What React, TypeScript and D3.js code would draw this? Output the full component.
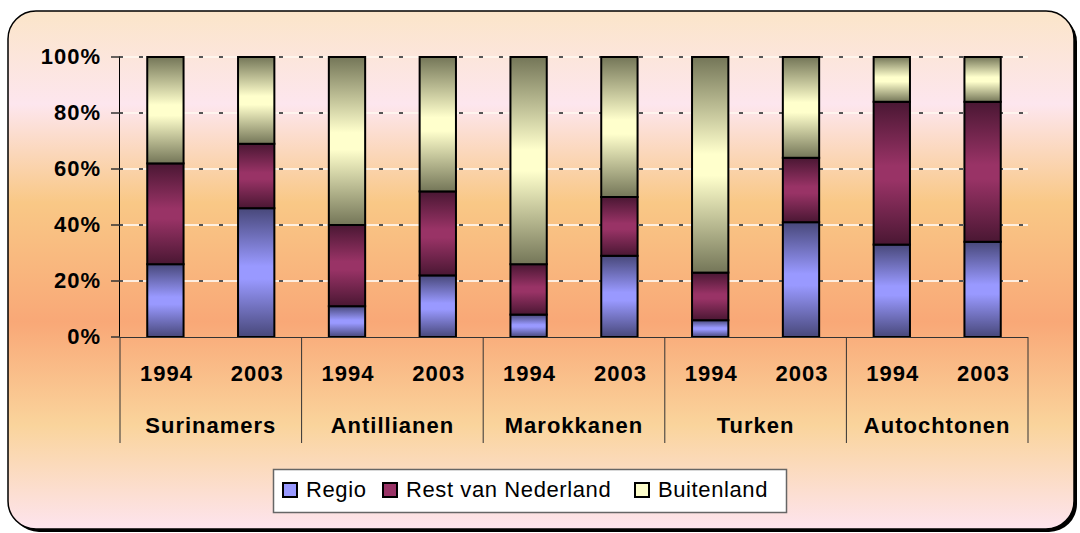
import * as d3 from 'd3';
import React from 'react';

const categories = ['Surinamers', 'Antillianen', 'Marokkanen', 'Turken', 'Autochtonen'];
const years = ['1994', '2003'];
const seriesNames = ['Regio', 'Rest van Nederland', 'Buitenland'];
const regio = [26, 46, 11, 22, 8, 29, 6, 41, 33, 34];
const restVanNederland = [36, 23, 29, 30, 18, 21, 17, 23, 51, 50];
const buitenland = [38, 31, 60, 48, 74, 50, 77, 36, 16, 16];
const yTicks = [0, 20, 40, 60, 80, 100];

// dark edge, light middle per series
const shades = [
  { dark: '#48487a', light: '#9999ff' },
  { dark: '#4a1733', light: '#993366' },
  { dark: '#747658', light: '#ffffcc' },
];

type Row = { key: string; cat: string; year: string; s0: number; s1: number; s2: number };

const rows: Row[] = [];
categories.forEach((c, ci) => {
  years.forEach((y, yi) => {
    const i = ci * 2 + yi;
    rows.push({ key: c + y, cat: c, year: y, s0: regio[i], s1: restVanNederland[i], s2: buitenland[i] });
  });
});

const font = '"Liberation Sans", Arial, sans-serif';

function App() {
  const width = 1080;
  const height = 533;
  const left = 120;
  const right = 1028;
  const top = 57;
  const bottom = 337;

  const x = d3.scaleBand<string>()
    .domain(rows.map((r) => r.key))
    .range([left, right])
    .paddingInner(0.6)
    .paddingOuter(0.3);

  const xCat = d3.scaleBand<string>().domain(categories).range([left, right]);

  const y = d3.scaleLinear().domain([0, 100]).range([bottom, top]);

  const stack = d3.stack<Row>().keys(['s0', 's1', 's2']);
  const stacked = stack(rows);

  const legendItems = [
    { x: 283, tx: 306 },
    { x: 383, tx: 406 },
    { x: 635, tx: 658 },
  ];

  return (
    <svg width={width} height={height} style={{ position: 'absolute', left: 0, top: 0 }}>
      <defs>
        <linearGradient id="bg" x1="0" y1="0" x2="0" y2="1">
          <stop offset="0" stopColor="#fbe5c9" />
          <stop offset="0.18" stopColor="#fde6ee" />
          <stop offset="0.37" stopColor="#f9c886" />
          <stop offset="0.6" stopColor="#f9a877" />
          <stop offset="0.8" stopColor="#fad49c" />
          <stop offset="1" stopColor="#fde4ee" />
        </linearGradient>
        {shades.map((s, i) => (
          <linearGradient key={i} id={'g' + i} x1="0" y1="0" x2="0" y2="1">
            <stop offset="0" stopColor={s.dark} />
            <stop offset="0.45" stopColor={s.light} />
            <stop offset="0.55" stopColor={s.light} />
            <stop offset="1" stopColor={s.dark} />
          </linearGradient>
        ))}
      </defs>

      <rect x={11} y={14} width={1066} height={518} rx={28} fill="#000" />
      <rect x={8} y={11} width={1066} height={518} rx={28} fill="url(#bg)" stroke="#000" strokeWidth={1.5} />

      {/* grid */}
      {yTicks.filter((t) => t > 0).map((t) => (
        <g key={t}>
          <line x1={left} x2={right} y1={y(t)} y2={y(t)} stroke="#fff8f0" strokeWidth={2} opacity={0.85} />
          <line x1={left - 1} x2={right} y1={y(t)} y2={y(t)} stroke="#555" strokeWidth={2} strokeDasharray="4 16" />
        </g>
      ))}

      {/* bars */}
      {stacked.map((layer, si) => (
        <g key={si}>
          {layer.map((d, i) => (
            <rect
              key={i}
              x={x(rows[i].key)}
              y={y(d[1])}
              width={x.bandwidth()}
              height={y(d[0]) - y(d[1])}
              fill={'url(#g' + si + ')'}
              stroke="#000"
              strokeWidth={2}
            />
          ))}
        </g>
      ))}

      {/* y axis */}
      <line x1={left - 0.5} x2={left - 0.5} y1={top} y2={bottom} stroke="#000" strokeWidth={1} />
      {yTicks.map((t) => (
        <g key={t}>
          <line x1={left - 9} x2={left} y1={y(t)} y2={y(t)} stroke="#333" strokeWidth={1.5} />
          <text
            x={101}
            y={y(t) - 1}
            dy="0.35em"
            textAnchor="end"
            fontFamily={font}
            fontWeight="bold"
            fontSize={22}
            letterSpacing={1}
            fill="#000"
          >
            {t}%
          </text>
        </g>
      ))}

      {/* x axis */}
      <line x1={left} x2={right} y1={bottom + 0.5} y2={bottom + 0.5} stroke="#333" strokeWidth={1} />
      {[...categories.map((c) => xCat(c) as number), right].map((px, i) => (
        <line key={i} x1={px} x2={px} y1={bottom} y2={443} stroke="#333" strokeWidth={1} />
      ))}
      {rows.map((r) => (
        <text
          key={r.key}
          x={(x(r.key) as number) + x.bandwidth() / 2 + 1}
          y={381}
          textAnchor="middle"
          fontFamily={font}
          fontWeight="bold"
          fontSize={22}
          letterSpacing={1}
        >
          {r.year}
        </text>
      ))}
      {categories.map((c) => (
        <text
          key={c}
          x={(xCat(c) as number) + xCat.bandwidth() / 2}
          y={433}
          textAnchor="middle"
          fontFamily={font}
          fontWeight="bold"
          fontSize={22}
          letterSpacing={1}
        >
          {c}
        </text>
      ))}

      {/* legend */}
      <rect x={273.5} y={469.5} width={513} height={43} fill="#fff" stroke="#666" strokeWidth={1.5} />
      {seriesNames.map((name, i) => (
        <g key={name}>
          <rect x={legendItems[i].x} y={483} width={14} height={14} fill={shades[i].light} stroke="#000" strokeWidth={2} />
          <text x={legendItems[i].tx} y={497} fontFamily={font} fontSize={22} letterSpacing={0.6}>
            {name}
          </text>
        </g>
      ))}
    </svg>
  );
}

export default App;
